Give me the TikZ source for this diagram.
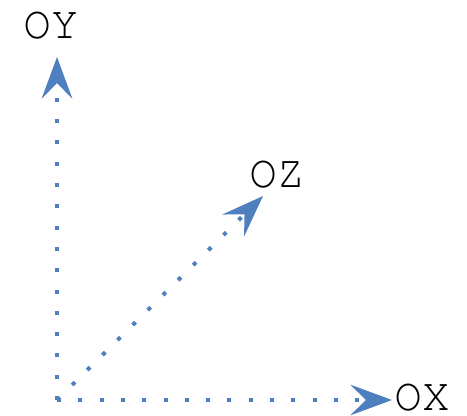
\documentclass[tikz,border=0pt]{standalone}
\usepackage[T1]{fontenc}
\usetikzlibrary{arrows.meta}
\definecolor{axisblue}{HTML}{4F7FBE}

\begin{document}
\begin{tikzpicture}[
  x=1pt, y=-1pt,
  axislabel/.style={font=\fontfamily{pcr}\fontsize{46}{46}\selectfont, text=black,
    inner sep=0pt, text height=26pt, text depth=0pt},
  axisline/.style={axisblue, line width=4pt, dash pattern=on 4pt off 17.3pt,
    -{Stealth[length=42pt, width=31pt, inset=16pt, line width=0pt]}},
]
\useasboundingbox (0,0) rectangle (467,416);

\coordinate (origin) at (57,400);
\coordinate (ytip) at (57,57);
\coordinate (xtip) at (392,400);
\coordinate (ztip) at (263,196);

\node[axislabel] (oy) at (51,25.5) {OY};
\node[axislabel] (oz) at (277,174) {OZ};
\node[axislabel] (ox) at (422,397.5) {OX};

% axes
\draw[axisline] (origin) -- (ytip);
\draw[axisline] (origin) -- (xtip);
\draw[axisline] (origin) -- (ztip);

\end{tikzpicture}
\end{document}
